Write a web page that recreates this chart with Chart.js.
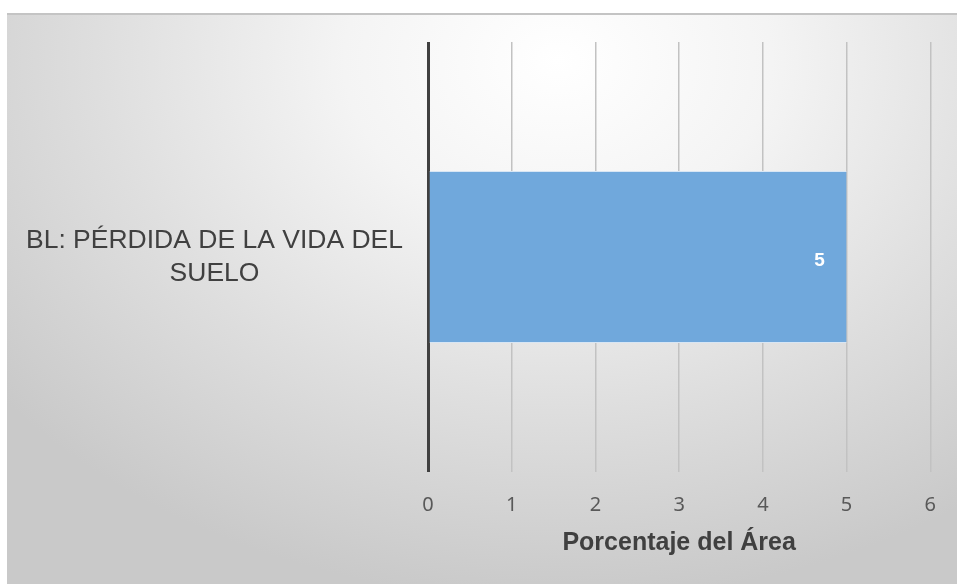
<!DOCTYPE html>
<html>
<head>
<meta charset="utf-8">
<script src="https://cdn.jsdelivr.net/npm/chart.js@4/dist/chart.umd.min.js"></script>
<style>
    html, body { margin: 0; padding: 0; background: #ffffff; }
    #wrap {
        position: absolute;
        left: 7px;
        top: 13px;
        width: 950px;
        height: 571px;
        border-top: 2px solid #c4c4c4;
        box-sizing: border-box;
        background: radial-gradient(ellipse 75% 95% at 58% 8%, #ffffff 0%, #f4f4f4 30%, #dedede 65%, #c9c9c9 100%);
    }
</style>
</head>
<body>
<div id="wrap"><canvas id="area-chart" width="950" height="569"></canvas></div>
<script>
// Category and value for the single bar
const categories = [['BL: PÉRDIDA DE LA VIDA DEL', 'SUELO']];
const areaPercent = [5];
const xTicks = [0, 1, 2, 3, 4, 5, 6];

// Value written inside the end of each bar
const valueLabels = {
    id: 'valueLabels',
    afterDatasetsDraw(chart) {
        const ctx = chart.ctx;
        const meta = chart.getDatasetMeta(0);
        ctx.save();
        ctx.fillStyle = '#ffffff';
        ctx.font = 'bold 19px "Liberation Sans", Arial, sans-serif';
        ctx.textAlign = 'center';
        ctx.textBaseline = 'middle';
        meta.data.forEach((bar, i) => {
            ctx.fillText(String(areaPercent[i]), bar.x - 27, bar.y + 4);
        });
        ctx.restore();
    }
};

const ctx = document.getElementById('area-chart').getContext('2d');

new Chart(ctx, {
    type: 'bar',
    data: {
        labels: categories,
        datasets: [{
            data: areaPercent,
            backgroundColor: '#70a8dc',
            borderColor: '#d8e6f4',
            borderWidth: { top: 1, bottom: 1, left: 0, right: 0 },
            borderSkipped: false,
            categoryPercentage: 1,
            barPercentage: 0.4,
        }]
    },
    options: {
        indexAxis: 'y',
        responsive: false,
        animation: false,
        layout: {
            padding: { top: 27, right: 25, left: 0, bottom: 26 }
        },
        scales: {
            x: {
                min: 0,
                max: 6,
                afterBuildTicks: function(axis) {
                    axis.ticks = xTicks.map(v => ({ value: v }));
                },
                afterFit: function(axis) {
                    axis.height = 86;
                },
                ticks: {
                    color: '#595959',
                    padding: 21,
                    font: { family: '"Noto Sans", sans-serif', size: 20 },
                },
                grid: {
                    drawTicks: false,
                    color: ctx => ctx.tick && ctx.tick.value === 0 ? '#404040' : '#c2c2c2',
                    lineWidth: ctx => ctx.tick && ctx.tick.value === 0 ? 3 : 1.5,
                },
                border: { display: false },
                title: {
                    display: true,
                    text: 'Porcentaje del Área',
                    color: '#404040',
                    padding: { top: 0, bottom: 0 },
                    font: { family: '"Liberation Sans", Arial, sans-serif', size: 25, weight: 'bold' },
                }
            },
            y: {
                afterFit: function(axis) {
                    axis.width = 421;
                    // the two-line label should not push the plot area down
                    axis.paddingTop = 0;
                    axis.paddingBottom = 0;
                },
                ticks: {
                    color: '#404040',
                    crossAlign: 'center',
                    padding: 25,
                    font: { family: '"Liberation Sans", Arial, sans-serif', size: 26.5, lineHeight: 1.245 },
                },
                grid: { display: false, drawTicks: false },
                border: { display: false },
            }
        },
        plugins: {
            legend: { display: false },
            tooltip: { enabled: false }
        }
    },
    plugins: [valueLabels]
});
</script>
</body>
</html>
